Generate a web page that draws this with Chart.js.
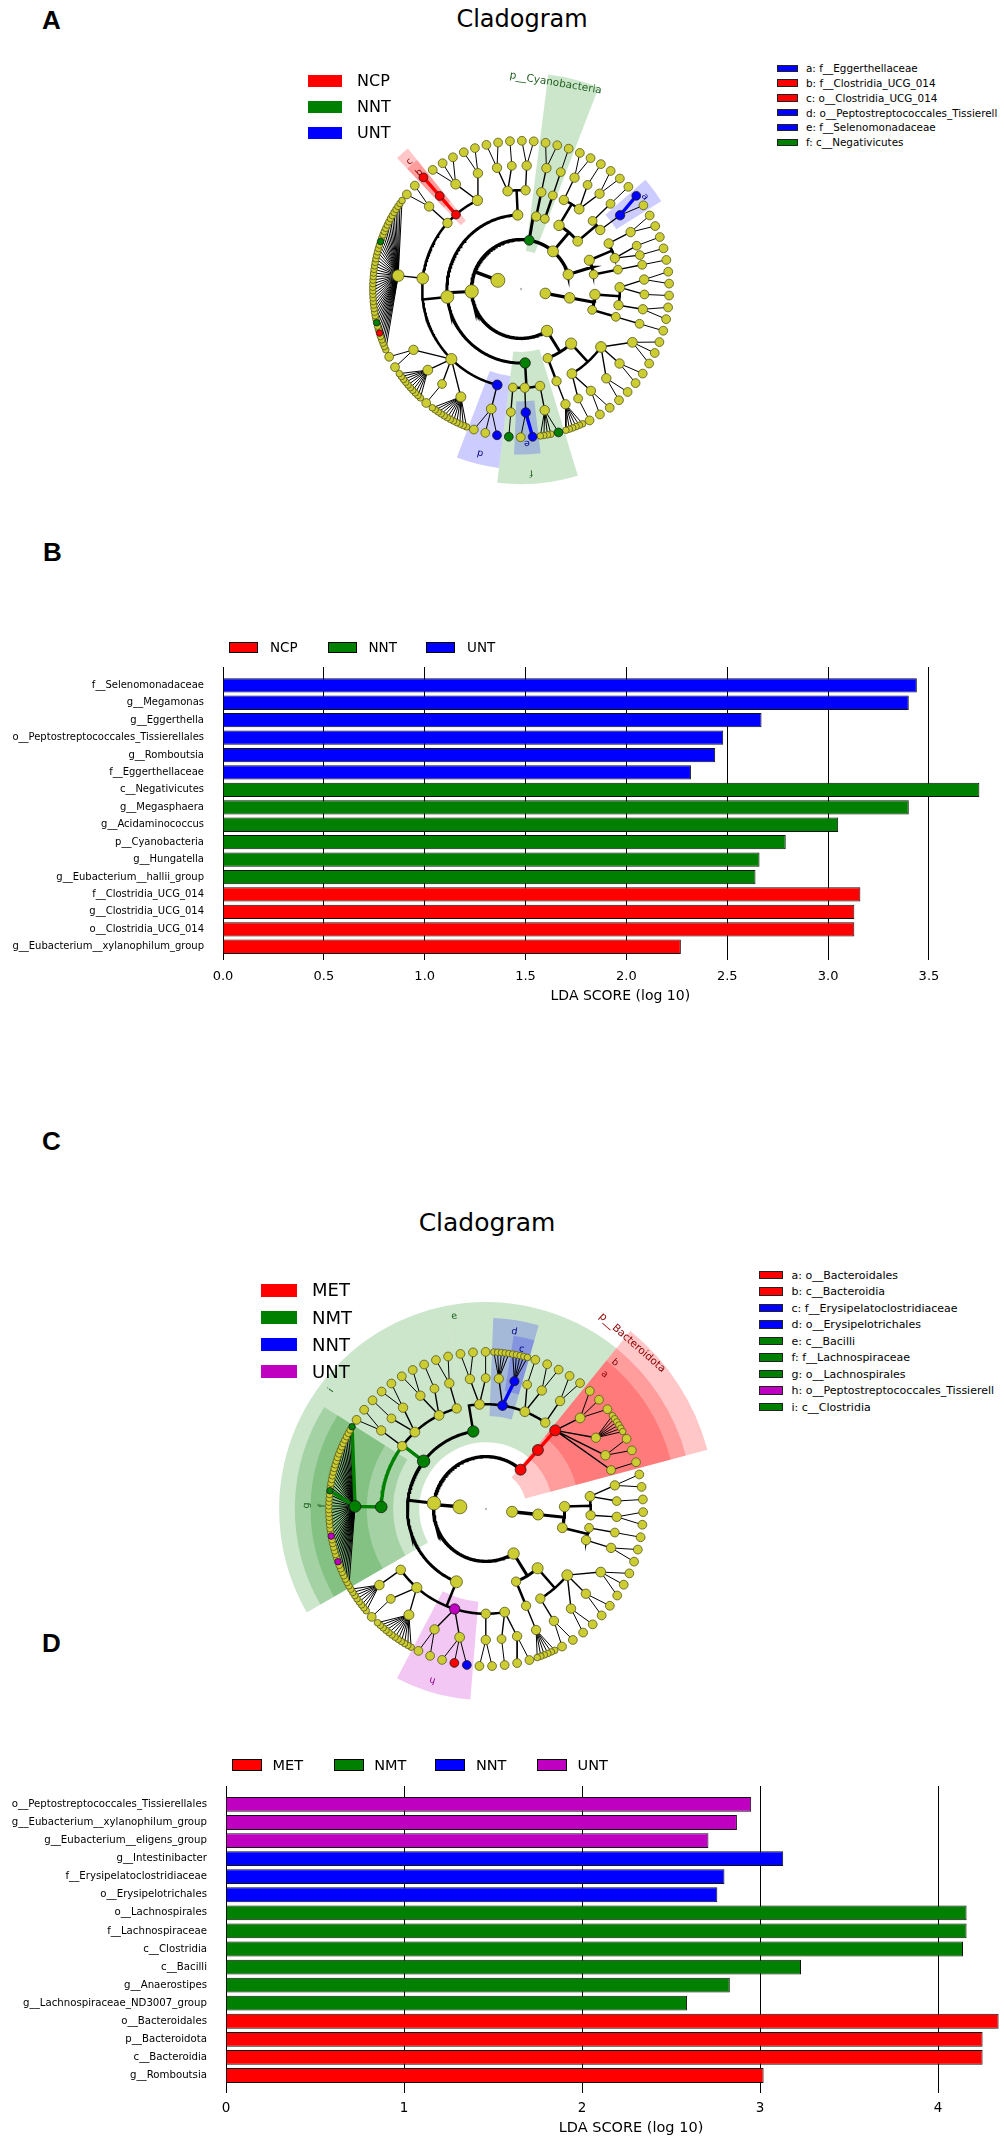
<!DOCTYPE html>
<html lang="en">
<head>
<meta charset="utf-8">
<title>Cladograms and LDA scores</title>
<script src="https://cdn.jsdelivr.net/npm/chart.js"></script>
<style>
  html, body { margin: 0; padding: 0; overflow: hidden; background: #fff; }
  body { position: relative; width: 1004px; height: 2141px; font-family: "DejaVu Sans", sans-serif; }
  .t { position: absolute; white-space: nowrap; line-height: 1; color: #000; }
  .tag { font-family: "Liberation Sans", Arial, sans-serif; font-weight: bold; font-size: 26px; }
  .box { position: absolute; box-sizing: border-box; }
  canvas { position: absolute; }
</style>
</head>
<body>
<div class="t tag" style="left:42px;top:7px">A</div>
<div class="t tag" style="left:43px;top:539px">B</div>
<div class="t tag" style="left:42px;top:1128px">C</div>
<div class="t tag" style="left:42px;top:1630px">D</div>
<div class="t" style="left:522px;top:7px;font-size:24px;transform:translateX(-50%)">Cladogram</div>
<div class="t" style="left:487px;top:1210px;font-size:25px;transform:translateX(-50%)">Cladogram</div>

<canvas id="cladeA" width="500" height="500" style="left:271px;top:39px"></canvas>
<canvas id="ldaB" width="1060" height="369" style="left:0;top:640.7px"></canvas>
<canvas id="cladeC" width="520" height="520" style="left:226px;top:1249px"></canvas>
<canvas id="ldaD" width="1080" height="381" style="left:0;top:1760px"></canvas>

<script type="text/javascript">

    // ---- groups ----
    const groupsB = ['NCP', 'NNT', 'UNT'];
    const colorsB = ['#ff0000', '#008000', '#0000ff'];
    const groupsD = ['MET', 'NMT', 'NNT', 'UNT'];
    const colorsD = ['#ff0000', '#008000', '#0000ff', '#c000c0'];

    // ---- panel B: LDA scores ----
    const taxaB = ['f__Selenomonadaceae', 'g__Megamonas', 'g__Eggerthella',
        'o__Peptostreptococcales_Tissierellales', 'g__Romboutsia', 'f__Eggerthellaceae',
        'c__Negativicutes', 'g__Megasphaera', 'g__Acidaminococcus', 'p__Cyanobacteria',
        'g__Hungatella', 'g__Eubacterium__hallii_group', 'f__Clostridia_UCG_014',
        'g__Clostridia_UCG_014', 'o__Clostridia_UCG_014', 'g__Eubacterium__xylanophilum_group'];
    const ldaB = [3.44, 3.40, 2.67, 2.48, 2.44, 2.32, 3.75, 3.40, 3.05, 2.79, 2.66, 2.64, 3.16, 3.13, 3.13, 2.27];
    const groupOfB = ['UNT', 'UNT', 'UNT', 'UNT', 'UNT', 'UNT', 'NNT', 'NNT', 'NNT', 'NNT', 'NNT', 'NNT',
        'NCP', 'NCP', 'NCP', 'NCP'];

    // ---- panel D: LDA scores ----
    const taxaD = ['o__Peptostreptococcales_Tissierellales', 'g__Eubacterium__xylanophilum_group',
        'g__Eubacterium__eligens_group', 'g__Intestinibacter', 'f__Erysipelatoclostridiaceae',
        'o__Erysipelotrichales', 'o__Lachnospirales', 'f__Lachnospiraceae', 'c__Clostridia', 'c__Bacilli',
        'g__Anaerostipes', 'g__Lachnospiraceae_ND3007_group', 'o__Bacteroidales', 'p__Bacteroidota',
        'c__Bacteroidia', 'g__Romboutsia'];
    const ldaD = [2.95, 2.87, 2.71, 3.13, 2.80, 2.76, 4.16, 4.16, 4.14, 3.23, 2.83, 2.59, 4.34, 4.25, 4.25, 3.02];
    const groupOfD = ['UNT', 'UNT', 'UNT', 'NNT', 'NNT', 'NNT', 'NMT', 'NMT', 'NMT', 'NMT', 'NMT', 'NMT',
        'MET', 'MET', 'MET', 'MET'];

    // ---- cladogram keys ----
    const keyA = ['a: f__Eggerthellaceae', 'b: f__Clostridia_UCG_014', 'c: o__Clostridia_UCG_014',
        'd: o__Peptostreptococcales_Tissierell', 'e: f__Selenomonadaceae', 'f: c__Negativicutes'];
    const keyColA = ['b', 'r', 'r', 'b', 'b', 'g'];
    const keyC = ['a: o__Bacteroidales', 'b: c__Bacteroidia', 'c: f__Erysipelatoclostridiaceae',
        'd: o__Erysipelotrichales', 'e: c__Bacilli', 'f: f__Lachnospiraceae', 'g: o__Lachnospirales',
        'h: o__Peptostreptococcales_Tissierell', 'i: c__Clostridia'];
    const keyColC = ['r', 'r', 'b', 'b', 'g', 'g', 'g', 'm', 'g'];

    // ---- cladogram trees (root > kingdom > phylum > class > order > family > genus) ----
    // node = [tag, ...children]; tag = colour letter, optional ':label', optional ':<' (node sits on its first genus)
    // number n = n plain genera, -n = n genera packed in a fan, '~x' = one fan genus of colour x
    const treeA = ['',
        ['y', ['y', ['y', ['y', ['y', 2], ['y', 1]], ['y', ['y', 2]]], ['y', ['y', ['y', 1]]]]],
        ['y',
            ['y', ['y', ['y', ['y', 3], ['y', 2], ['y', 2]], ['y', ['y', 2], ['y', 1]]], ['y', ['y', ['y', -6]]]],
            ['y',
                ['g:f', ['y', ['y', 'g', -4]], ['y', ['b:e', 'b', 'y']], ['y', ['y', 'g']]],
                ['y',
                    ['b:d', ['y', 'b', 'y', 'y']],
                    ['y', ['y', -12], ['y', 1], ['y', -10], ['y', 2]],
                    ['y', ['y', -5, '~r', -2, '~g', -22, '~g', -13]],
                    ['y', ['y', 2]],
                    ['r:c', ['r:b', 'r']],
                    ['y', ['y', 3], ['y', 2]]],
                ['y', ['y', ['y', 2], ['y', 1]], ['y', ['y', 2]]]],
            ['g:p__Cyanobacteria:<', ['y', ['y', ['y', 2]]], ['y', ['y', ['y', 1]]]],
            ['y', ['y', ['y', ['y', 2]], ['y', ['y', 1], ['y', 2]]], ['y', ['y', ['y', 1]], ['y', ['b:a', 'b', 'y']]]],
            ['y', ['y', ['y', ['y', 2]], ['y', ['y', 1], ['y', 1]]], ['y', ['y', ['y', 1]]]]]];

    const treeC = ['',
        ['y', ['y', ['y', ['y', ['y', 2], ['y', 1]], ['y', ['y', 2]]], ['y', ['y', ['y', 1]], ['y', ['y', 2]]]]],
        ['y',
            ['y', ['y', ['y', ['y', 3], ['y', 2], ['y', 2]], ['y', ['y', 2]]], ['y', ['y', ['y', -6]]]],
            ['y',
                ['y',
                    ['y', ['y', 2], ['y', 1]],
                    ['y', ['y', 2]],
                    ['m:h', ['y', 'b', 'r', 'y'], ['y', 2]],
                    ['y', ['y', -12], ['y', 1]],
                    ['y', ['y', -8]]],
                ['g:i',
                    ['g:g', ['g:f', -7, '~m', -6, '~m', -11, '~g', -17, '~g']],
                    ['y', ['y', 2]],
                    ['y', ['y', 1], ['y', 2]],
                    ['y', ['y', 2], ['y', 1]],
                    ['y', ['y', 2]]],
                ['g:e:<',
                    ['y', ['y', 2], ['y', 1]],
                    ['b:d', ['y', -5], ['b:c', -5]],
                    ['y', ['y', 1], ['y', 2]],
                    ['y', ['y', 2]]]],
            ['r:p__Bacteroidota', ['r:b', ['r:a:<', ['y', 3], ['y', -6], ['y', 2], ['y', 1]]]]]];

    // ---------------------------------------------------------------

    Chart.defaults.font.family = '"DejaVu Sans", sans-serif';
    Chart.defaults.color = '#000';

    const FAN = 0.3;
    const fill = { y: '#cccc33', r: '#ff0000', g: '#008000', b: '#0000ff', m: '#c000c0' };
    const shade = { r: 'rgba(255,0,0,0.22)', g: 'rgba(0,128,0,0.2)', b: 'rgba(0,0,255,0.2)', m: 'rgba(200,0,200,0.22)' };
    const ink = { r: '#8b0000', g: '#1f5f1f', b: '#00008b', m: '#8b008b' };
    const outerOff = { 2: 2.75, 3: 1.9, 4: 1.3, 5: 0.7, 6: 0.35 };

    function leaf(color, depth, fan) {
        return { color, label: null, depth, kids: [], w: fan ? FAN : 1, fan };
    }

    function parseNode(item, depth) {
        if (typeof item === 'string') {
            const fan = item[0] === '~';
            return leaf(fan ? item[1] : item[0], depth, fan);
        }
        const [tag, ...rest] = item;
        const parts = tag.split(':');
        const node = { color: parts[0][0] || 'y', label: parts[1] || null, first: parts[2] === '<', depth, kids: [] };
        rest.forEach(k => {
            if (typeof k === 'number') {
                for (let i = 0; i < Math.abs(k); i++) node.kids.push(leaf('y', depth + 1, k < 0));
            } else node.kids.push(parseNode(k, depth + 1));
        });
        return node;
    }

    function weigh(n) {
        if (n.kids.length) n.w = n.kids.reduce((s, k) => s + weigh(k), 0);
        return n.w;
    }

    function place(n, state, unit, step) {
        n.r = n.depth * step;
        if (!n.kids.length) {
            n.a0 = state.a; state.a += n.w * unit; n.a1 = state.a; n.a = (n.a0 + n.a1) / 2; n.fa = n.a;
            return;
        }
        n.kids.forEach(k => place(k, state, unit, step));
        const f = n.kids[0], l = n.kids[n.kids.length - 1];
        n.a0 = f.a0; n.a1 = l.a1; n.fa = f.fa;
        n.a = n.first ? n.fa : (f.a + l.a) / 2;
    }

    const pt = (r, a) => ({ x: r * Math.cos(a * Math.PI / 180), y: -r * Math.sin(a * Math.PI / 180) });

    function cladogram(id, tree, step, start, half) {
        const root = parseNode(tree, 0);
        weigh(root);
        place(root, { a: start }, 360 / root.w, step);
        const R = 6 * step;

        const lines = {};
        const nodes = [];
        const marked = [];
        (function walk(n) {
            if (n.depth > 0) nodes.push(n);
            if (n.label) marked.push(n);
            n.kids.forEach(k => {
                if (n.depth > 0) {
                    const same = k.color !== 'y' && k.color === n.color;
                    const width = same ? 3.4 : (k.depth <= 4 ? { 2: 3.4, 3: 3.0, 4: 2.5 }[k.depth] : (k.depth === 5 ? 1.4 : 1.0));
                    const col = same ? fill[k.color] : '#000';
                    let pts;
                    if (k.depth <= 4) {
                        pts = [pt(n.r, n.a), pt(k.r, n.a)];
                        const steps = Math.max(1, Math.ceil(Math.abs(k.a - n.a)));
                        for (let i = 1; i <= steps; i++) pts.push(pt(k.r, n.a + (k.a - n.a) * i / steps));
                    } else {
                        pts = [pt(n.r, n.a), pt(k.r, k.a)];
                    }
                    const key = col + '|' + width;
                    if (!lines[key]) lines[key] = { col, width, same, data: [] };
                    lines[key].data.push(...pts, { x: null, y: null });
                }
                walk(k);
            });
        })(root);

        nodes.sort((p, q) => (p.color === 'y' ? 0 : 1) - (q.color === 'y' ? 0 : 1));

        const datasets = [{
            data: nodes.map(n => pt(n.r, n.a)),
            pointRadius: nodes.map(n => n.fan ? 3.3 : 3.9 + 0.5 * Math.log2(1 + n.w)),
            pointBackgroundColor: nodes.map(n => fill[n.color]),
            pointBorderColor: nodes.map(n => n.color === 'y' ? '#55551c' : '#1a1a1a'),
            pointBorderWidth: 0.8,
            order: 0
        }, {
            data: [{ x: 0, y: 0 }], pointRadius: 1.2, pointBackgroundColor: '#bbb', pointBorderWidth: 0, order: 0
        }];
        Object.values(lines).forEach(l => datasets.push({
            data: l.data, showLine: true, spanGaps: false, pointRadius: 0,
            borderColor: l.col, borderWidth: l.width, borderCapStyle: 'round', order: l.same ? 1 : 2
        }));

        const highlights = {
            id: 'highlights',
            beforeDatasetsDraw(chart) {
                const { ctx, scales: { x, y } } = chart;
                const cx = x.getPixelForValue(0), cy = y.getPixelForValue(0);
                const k = x.getPixelForValue(1) - cx;
                ctx.save();
                marked.forEach(n => {
                    const outer = (R + outerOff[n.depth] * step) * k, inner = (n.r - 0.45 * step) * k;
                    const a0 = n.a0 * Math.PI / 180, a1 = n.a1 * Math.PI / 180;
                    ctx.beginPath();
                    ctx.arc(cx, cy, outer, a0, a1);
                    ctx.arc(cx, cy, inner, a1, a0, true);
                    ctx.closePath();
                    ctx.fillStyle = shade[n.color];
                    ctx.fill();
                });
                ctx.restore();
            },
            afterDatasetsDraw(chart) {
                const { ctx, scales: { x, y } } = chart;
                ctx.save();
                marked.forEach(n => {
                    const long = n.label.length > 1;
                    const outer = R + outerOff[n.depth] * step;
                    const p = pt(long ? outer - 0.3 * step : outer - 0.45 * step, n.a);
                    ctx.save();
                    ctx.translate(x.getPixelForValue(p.x), y.getPixelForValue(p.y));
                    ctx.rotate((n.a + 90) * Math.PI / 180);
                    ctx.fillStyle = ink[n.color];
                    ctx.font = (long ? '10.5px' : '9.5px') + ' "DejaVu Sans", sans-serif';
                    ctx.textAlign = 'center';
                    ctx.textBaseline = 'middle';
                    ctx.fillText(n.label, 0, 0);
                    ctx.restore();
                });
                ctx.restore();
            }
        };

        new Chart(document.getElementById(id), {
            type: 'scatter',
            data: { datasets },
            options: {
                responsive: false, animation: false, events: [],
                layout: { padding: 0 },
                plugins: { legend: { display: false }, tooltip: { enabled: false } },
                scales: {
                    x: { type: 'linear', min: -half, max: half, display: false },
                    y: { type: 'linear', min: -half, max: half, display: false }
                }
            },
            plugins: [highlights]
        });
    }

    function ldaChart(id, taxa, lda, groupOf, groups, colors, o) {
        const datasets = groups.map((g, k) => ({
            label: g,
            data: taxa.map((t, i) => groupOf[i] === g ? { x: lda[i], y: i } : null).filter(Boolean),
            backgroundColor: colors[k],
            borderColor: '#111',
            borderWidth: 1,
            grouped: false,
            barPercentage: 0.82,
            categoryPercentage: 1
        }));
        new Chart(document.getElementById(id), {
            type: 'bar',
            data: { datasets },
            options: {
                indexAxis: 'y', responsive: false, animation: false, events: [],
                layout: { padding: { top: 26, right: o.padRight, left: 0, bottom: 0 } },
                plugins: { legend: { display: false }, tooltip: { enabled: false } },
                scales: {
                    y: {
                        type: 'linear', reverse: true, min: o.yMin, max: o.yMax, offset: false,
                        afterFit: s => { s.width = o.axisW; },
                        afterBuildTicks: s => { s.ticks = taxa.map((_, i) => ({ value: i })); },
                        grid: { display: false, drawTicks: false, offset: false },
                        border: { display: false },
                        ticks: { autoSkip: false, padding: 19, font: { size: o.labelSize }, callback: v => taxa[v] }
                    },
                    x: {
                        type: 'linear', min: 0, max: o.xMax, offset: false,
                        afterFit: s => { s.height = o.axisH; },
                        grid: { color: '#000', lineWidth: 1, drawTicks: false },
                        border: { display: false },
                        ticks: {
                            stepSize: o.step, includeBounds: false, padding: o.tickPad,
                            font: { size: o.tickSize }, callback: v => v.toFixed(o.dec)
                        },
                        title: {
                            display: true, text: 'LDA SCORE (log 10)', font: { size: o.titleSize },
                            padding: { top: 0, bottom: o.titlePad }
                        }
                    }
                }
            }
        });
    }

    // ---- html keys ----
    function text(x, yc, str, size) {
        const d = document.createElement('div');
        d.className = 't';
        d.textContent = str;
        d.style.left = x + 'px';
        d.style.top = (yc - 0.481 * size) + 'px';
        d.style.fontSize = size + 'px';
        document.body.appendChild(d);
    }
    function swatch(x, yc, w, h, bg, border) {
        const d = document.createElement('div');
        d.className = 'box';
        Object.assign(d.style, {
            left: x + 'px', top: (yc - h / 2) + 'px', width: w + 'px', height: h + 'px',
            background: bg, border: border || 'none'
        });
        document.body.appendChild(d);
    }

    cladogram('cladeA', treeA, 25.5, -9, 250);
    cladogram('cladeC', treeC, 27, -15, 260);

    ldaChart('ldaB', taxaB, ldaB, groupOfB, groupsB, colorsB, {
        padRight: 42.3, axisW: 223, axisH: 50, yMin: -1.05, yMax: 15.76, xMax: 3.94,
        step: 0.5, dec: 1, labelSize: 10, tickSize: 13, titleSize: 14, tickPad: 9, titlePad: 5
    });
    ldaChart('ldaD', taxaD, ldaD, groupOfD, groupsD, colorsD, {
        padRight: 44, axisW: 226, axisH: 48, yMin: -1.02, yMax: 15.97, xMax: 4.55,
        step: 1, dec: 0, labelSize: 10.2, tickSize: 13.5, titleSize: 14.5, tickPad: 7, titlePad: 4
    });

    groupsB.forEach((g, i) => { swatch(308, 81 + 26 * i, 34, 12, colorsB[i]); text(357, 81 + 26 * i, g, 16); });
    groupsD.forEach((g, i) => { swatch(261, 1290 + 27.3 * i, 36, 13, colorsD[i]); text(312, 1290 + 27.3 * i, g, 18); });
    keyA.forEach((s, i) => { swatch(777, 68.3 + 14.8 * i, 21, 7.5, fill[keyColA[i]], '1px solid #222'); text(806, 68.3 + 14.8 * i, s, 10.4); });
    keyC.forEach((s, i) => { swatch(759, 1275 + 16.5 * i, 24, 8.5, fill[keyColC[i]], '1px solid #222'); text(791.5, 1275 + 16.5 * i, s, 11); });
    groupsB.forEach((g, i) => { const x = 229 + 98.5 * i; swatch(x, 647, 29, 11, colorsB[i], '1px solid #000'); text(x + 41, 647, g, 13.5); });
    groupsD.forEach((g, i) => { const x = 232 + 101.7 * i; swatch(x, 1765, 30, 12, colorsD[i], '1px solid #000'); text(x + 40.5, 1765, g, 14.5); });
</script>
</body>
</html>
